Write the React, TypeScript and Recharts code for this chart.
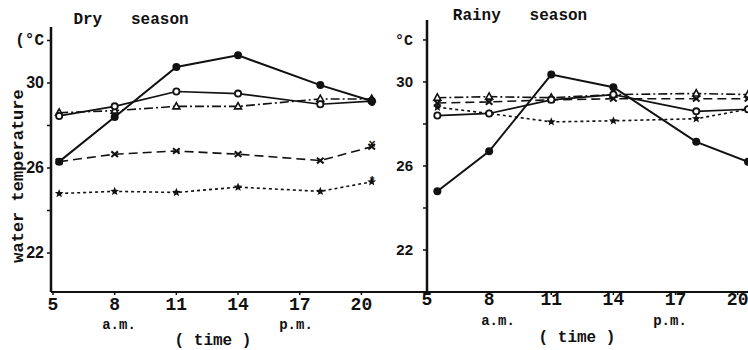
import React from 'react';
import { LineChart, Line, XAxis, YAxis } from 'recharts';

// Diurnal water temperature, dry vs rainy season (scanned figure look)
const INK = '#111111';
const MONO = '"Liberation Mono", "DejaVu Sans Mono", monospace';
const SANS = '"Liberation Sans", Arial, sans-serif';

const dryHours = [5.3, 8, 11, 14, 18, 20.5];
const rainyHours = [5.5, 8, 11, 14, 18, 20.5];
const hourTicks = [5, 8, 11, 14, 17, 20];
const tempTicks = [22, 24, 26, 28, 30, 32];
const labelledTemps = [22, 26, 30];

// dry season (°C)
const dryFilled = [26.3, 28.4, 30.75, 31.3, 29.9, 29.15];
const dryOpen = [28.45, 28.9, 29.6, 29.5, 29.0, 29.15];
const dryTriangle = [28.6, 28.7, 28.9, 28.9, 29.25, 29.25];
const dryCross = [26.3, 26.65, 26.8, 26.65, 26.35, 27.0];
const dryStar = [24.8, 24.9, 24.85, 25.1, 24.9, 25.35];

// rainy season (°C)
const rainyFilled = [24.8, 26.7, 30.35, 29.75, 27.15, 26.2];
const rainyOpen = [28.4, 28.5, 29.15, 29.4, 28.6, 28.7];
const rainyTriangle = [29.25, 29.3, 29.25, 29.4, 29.45, 29.4];
const rainyCross = [29.0, 29.05, 29.15, 29.2, 29.2, 29.2];
const rainyStar = [28.8, 28.5, 28.1, 28.15, 28.25, 28.7];

type MarkerKind = 'filled' | 'open' | 'triangle' | 'cross' | 'star';

const SERIES: { key: MarkerKind; dash?: string; width: number }[] = [
  { key: 'triangle', dash: '9 3 2 3', width: 1.6 },
  { key: 'cross', dash: '9 5', width: 1.6 },
  { key: 'star', dash: '3 3', width: 1.6 },
  { key: 'open', width: 1.7 },
  { key: 'filled', width: 2 },
];

function buildRows(
  hours: number[],
  filled: number[],
  open: number[],
  triangle: number[],
  cross: number[],
  star: number[],
) {
  return hours.map((hour, i) => ({
    hour,
    filled: filled[i],
    open: open[i],
    triangle: triangle[i],
    cross: cross[i],
    star: star[i],
  }));
}

const dryRows = buildRows(dryHours, dryFilled, dryOpen, dryTriangle, dryCross, dryStar);
const rainyRows = buildRows(rainyHours, rainyFilled, rainyOpen, rainyTriangle, rainyCross, rainyStar);

function starPoints(cx: number, cy: number, outer: number, inner: number) {
  const pts: string[] = [];
  for (let i = 0; i < 10; i++) {
    const r = i % 2 === 0 ? outer : inner;
    const a = -Math.PI / 2 + (i * Math.PI) / 5;
    pts.push(`${cx + r * Math.cos(a)},${cy + r * Math.sin(a)}`);
  }
  return pts.join(' ');
}

function markerRenderer(kind: MarkerKind) {
  return (props: any) => {
    const { cx, cy, index } = props;
    const key = `${kind}-${index}`;
    if (cx == null || cy == null) return <g key={key} />;
    switch (kind) {
      case 'filled':
        return <circle key={key} cx={cx} cy={cy} r={4} fill={INK} />;
      case 'open':
        return <circle key={key} cx={cx} cy={cy} r={3.1} fill="#fff" stroke={INK} strokeWidth={1.8} />;
      case 'triangle':
        return (
          <polygon
            key={key}
            points={`${cx},${cy - 3.8} ${cx - 3.5},${cy + 2.5} ${cx + 3.5},${cy + 2.5}`}
            fill="#fff"
            stroke={INK}
            strokeWidth={1.6}
          />
        );
      case 'cross':
        return (
          <g key={key} stroke={INK} strokeWidth={2}>
            <line x1={cx - 3.3} y1={cy - 2.8} x2={cx + 3.3} y2={cy + 2.8} />
            <line x1={cx - 3.3} y1={cy + 2.8} x2={cx + 3.3} y2={cy - 2.8} />
          </g>
        );
      default:
        return <polygon key={key} points={starPoints(cx, cy, 4.6, 2)} fill={INK} />;
    }
  };
}

function TempTick(props: any) {
  const { x, y, payload, unit, size } = props;
  const v = payload.value;
  let text = '';
  if (v === 32) text = unit;
  else if (labelledTemps.includes(v)) text = String(v);
  return (
    <text
      x={x}
      y={y}
      dy={5}
      textAnchor="end"
      fill={INK}
      fontFamily={v === 32 ? MONO : SANS}
      fontWeight="bold"
      fontSize={size}
    >
      {text}
    </text>
  );
}

function HourTick(props: any) {
  const { x, y, payload, drop } = props;
  return (
    <text
      x={x}
      y={y + drop}
      textAnchor="middle"
      dominantBaseline="central"
      fill={INK}
      fontFamily={MONO}
      fontWeight="bold"
      fontSize={18}
    >
      {payload.value}
    </text>
  );
}

function Note({
  x,
  y,
  size = 15,
  rotate = 0,
  children,
}: {
  x: number;
  y: number;
  size?: number;
  rotate?: number;
  children: React.ReactNode;
}) {
  return (
    <div
      style={{
        position: 'absolute',
        left: x,
        top: y,
        transform: `translate(-50%, -50%) rotate(${rotate}deg)`,
        fontFamily: MONO,
        fontWeight: 'bold',
        fontSize: size,
        color: INK,
        whiteSpace: 'pre',
        lineHeight: 1,
      }}
    >
      {children}
    </div>
  );
}

interface PanelProps {
  rows: ReturnType<typeof buildRows>;
  width: number;
  margin: { top: number; right: number; bottom: number; left: number };
  xDomain: [number, number];
  yDomain: [number, number];
  unit: string;
  labelSize: number;
  tickGap: number;
  drop: number;
}

function Panel({ rows, width, margin, xDomain, yDomain, unit, labelSize, tickGap, drop }: PanelProps) {
  return (
    <LineChart width={width} height={350} data={rows} margin={margin}>
      <XAxis
        type="number"
        dataKey="hour"
        domain={xDomain}
        allowDataOverflow
        ticks={hourTicks}
        height={30}
        axisLine={{ stroke: INK, strokeWidth: 2 }}
        tickLine={{ stroke: INK, strokeWidth: 1.5 }}
        tickSize={3}
        tickMargin={2}
        tick={(p: any) => <HourTick {...p} drop={drop} />}
      />
      <YAxis
        type="number"
        domain={yDomain}
        allowDataOverflow
        ticks={tempTicks}
        width={30}
        axisLine={{ stroke: INK, strokeWidth: 2.5 }}
        tickLine={{ stroke: INK, strokeWidth: 1.5 }}
        tickSize={4}
        tickMargin={tickGap}
        tick={(p: any) => <TempTick {...p} unit={unit} size={labelSize} />}
      />
      {SERIES.map((s) => (
        <Line
          key={s.key}
          type="linear"
          dataKey={s.key}
          stroke={INK}
          strokeWidth={s.width}
          strokeDasharray={s.dash}
          dot={markerRenderer(s.key)}
          activeDot={false}
          isAnimationActive={false}
        />
      ))}
    </LineChart>
  );
}

export default function App() {
  return (
    <div
      style={{
        position: 'absolute',
        left: 0,
        top: 0,
        width: 748,
        height: 350,
        background: '#fff',
        overflow: 'hidden',
      }}
    >
      <div style={{ position: 'absolute', left: 0, top: 0 }}>
        <Panel
          rows={dryRows}
          width={430}
          margin={{ top: 27, right: 3, bottom: 28, left: 21 }}
          xDomain={[4.903, 23.19]}
          yDomain={[20.165, 32.635]}
          unit="(°C"
          labelSize={16}
          tickGap={3}
          drop={8}
        />
      </div>
      <div style={{ position: 'absolute', left: 370, top: 0 }}>
        <Panel
          rows={rainyRows}
          width={378}
          margin={{ top: 20, right: 0, bottom: 28, left: 27 }}
          xDomain={[5, 20.5]}
          yDomain={[20, 32.95]}
          unit="°C"
          labelSize={15}
          tickGap={10}
          drop={3}
        />
      </div>

      <Note x={131} y={20} size={16}>Dry   season</Note>
      <Note x={520} y={16} size={16}>Rainy   season</Note>
      <Note x={18} y={176} size={17} rotate={-90}>water temperature</Note>

      <Note x={119} y={325} size={14}>a.m.</Note>
      <Note x={296} y={325} size={14}>p.m.</Note>
      <Note x={213} y={341} size={16}>( time )</Note>

      <Note x={498} y={321} size={14}>a.m.</Note>
      <Note x={670} y={321} size={14}>p.m.</Note>
      <Note x={577} y={338} size={16}>( time )</Note>

      <Note x={372} y={103} size={12}>o</Note>
      <Note x={372} y={145} size={12}>×</Note>
      <Note x={372} y={182} size={12}>*</Note>
    </div>
  );
}
